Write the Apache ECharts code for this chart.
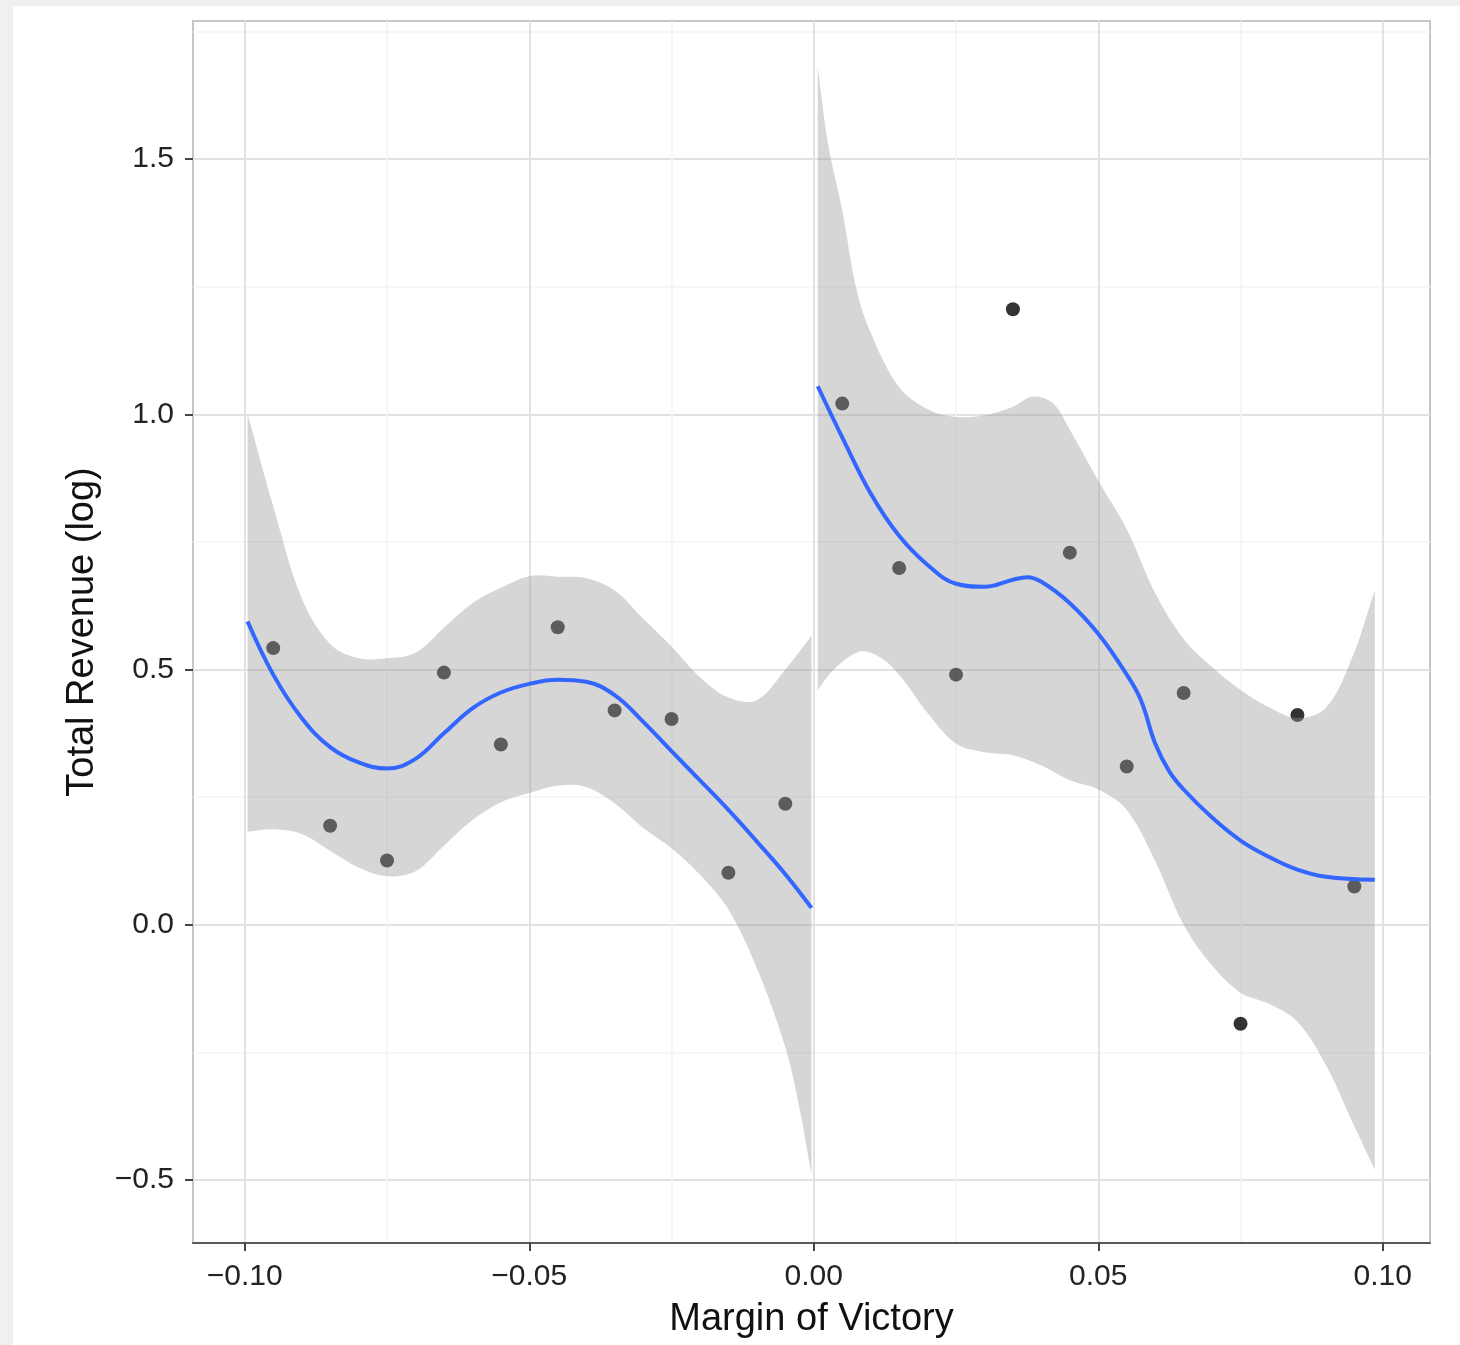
<!DOCTYPE html>
<html>
<head>
<meta charset="utf-8">
<script src="https://cdn.jsdelivr.net/npm/echarts@6/dist/echarts.min.js"></script>
<style>
  html, body { margin: 0; padding: 0; width: 1460px; height: 1345px; overflow: hidden; background: #f0f0f3; }
  #sheet { position: absolute; left: 13px; top: 6px; right: 0; bottom: 0; background: #ffffff; }
  #chart { position: absolute; left: 0; top: 0; width: 1460px; height: 1345px; }
</style>
</head>
<body>
<div id="sheet"></div>
<div id="chart"></div>
<script>
// Binned observations: margin of victory vs. mean log total revenue
const pointX = [-0.095, -0.085, -0.075, -0.065, -0.055, -0.045, -0.035, -0.025, -0.015, -0.005,
                 0.005,  0.015,  0.025,  0.035,  0.045,  0.055,  0.065,  0.075,  0.085,  0.095];
const pointY = [0.542, 0.194, 0.126, 0.494, 0.353, 0.583, 0.420, 0.403, 0.102, 0.237,
                1.021, 0.699, 0.490, 1.206, 0.729, 0.310, 0.454, -0.194, 0.411, 0.075];

// Loess fit below the threshold (losers)
const leftFitX = [-0.0995, -0.095, -0.09, -0.085, -0.08, -0.075, -0.07, -0.065, -0.06, -0.055, -0.05,
                  -0.045, -0.04, -0.035, -0.03, -0.025, -0.02, -0.015, -0.01, -0.005, -0.0004];
const leftFitY = [0.594, 0.490, 0.405, 0.348, 0.318, 0.306, 0.325, 0.375, 0.424, 0.455, 0.472,
                  0.480, 0.476, 0.450, 0.398, 0.340, 0.283, 0.225, 0.163, 0.099, 0.033];
const leftUpperX = [-0.0995, -0.095, -0.09, -0.085, -0.08, -0.075, -0.07, -0.065, -0.06, -0.055, -0.05,
                    -0.045, -0.04, -0.035, -0.03, -0.025, -0.02, -0.015, -0.01, -0.005, -0.0004];
const leftUpperY = [1.000, 0.820, 0.640, 0.550, 0.522, 0.522, 0.533, 0.582, 0.630, 0.660, 0.683,
                    0.682, 0.679, 0.655, 0.600, 0.545, 0.485, 0.445, 0.440, 0.500, 0.566];
const leftLowerX = [-0.0995, -0.095, -0.09, -0.085, -0.08, -0.075, -0.07, -0.065, -0.06, -0.055, -0.05,
                    -0.045, -0.04, -0.035, -0.03, -0.025, -0.02, -0.015, -0.01, -0.005, -0.0025, -0.0004];
const leftLowerY = [0.182, 0.187, 0.178, 0.145, 0.112, 0.095, 0.105, 0.155, 0.205, 0.240, 0.258,
                    0.273, 0.270, 0.238, 0.190, 0.150, 0.098, 0.030, -0.085, -0.240, -0.360, -0.490];

// Loess fit above the threshold (winners)
const rightFitX = [0.0007, 0.005, 0.01, 0.015, 0.02, 0.025, 0.03, 0.035, 0.0375, 0.04, 0.045, 0.05,
                   0.055, 0.0575, 0.06, 0.0625, 0.065, 0.07, 0.075, 0.08, 0.085, 0.09, 0.0986];
const rightFitY = [1.055, 0.955, 0.845, 0.762, 0.705, 0.668, 0.662, 0.676, 0.681, 0.672, 0.630, 0.570,
                   0.490, 0.440, 0.355, 0.300, 0.265, 0.210, 0.165, 0.133, 0.108, 0.094, 0.088];
const rightUpperX = [0.0007, 0.0025, 0.005, 0.0075, 0.01, 0.015, 0.02, 0.025, 0.03, 0.035, 0.0385, 0.042,
                     0.045, 0.05, 0.055, 0.06, 0.065, 0.07, 0.075, 0.08, 0.085, 0.09, 0.0945, 0.0986];
const rightUpperY = [1.680, 1.530, 1.400, 1.245, 1.160, 1.053, 1.010, 0.995, 0.998, 1.015, 1.035, 1.022,
                     0.970, 0.870, 0.775, 0.650, 0.560, 0.505, 0.460, 0.426, 0.405, 0.425, 0.520, 0.655];
const rightLowerX = [0.0007, 0.0035, 0.008, 0.0115, 0.015, 0.02, 0.025, 0.03, 0.035, 0.04, 0.045, 0.05,
                     0.055, 0.06, 0.065, 0.07, 0.075, 0.08, 0.085, 0.09, 0.095, 0.0986];
const rightLowerY = [0.460, 0.500, 0.535, 0.525, 0.490, 0.415, 0.355, 0.338, 0.332, 0.312, 0.283, 0.265,
                     0.225, 0.125, 0.000, -0.080, -0.133, -0.155, -0.190, -0.275, -0.395, -0.480];

// Axis ticks and their printed labels
const xTicks = [-0.10, -0.05, 0.00, 0.05, 0.10];
const xTickLabels = ['\u22120.10', '\u22120.05', '0.00', '0.05', '0.10'];
const xMinorTicks = [-0.075, -0.025, 0.025, 0.075];
const yTicks = [-0.5, 0.0, 0.5, 1.0, 1.5];
const yTickLabels = ['\u22120.5', '0.0', '0.5', '1.0', '1.5'];
const yMinorTicks = [-0.25, 0.25, 0.75, 1.25, 1.75];

// Panel extent (data range plus padding)
const X_MIN = -0.1091, X_MAX = 0.1083;
const Y_MIN = -0.6235, Y_MAX = 1.7706;

const FONT = '"Liberation Sans", Arial, Helvetica, sans-serif';

function labelFor(ticks, labels) {
  return function (v) {
    const i = ticks.findIndex(t => Math.abs(t - v) < 1e-9);
    return i >= 0 ? labels[i] : '';
  };
}

const zip = (xs, ys) => xs.map((x, i) => [x, ys[i]]);

// Confidence band as a filled polygon between the upper and lower bounds
function ribbon(ux, uy, lx, ly) {
  return {
    type: 'custom',
    coordinateSystem: 'cartesian2d',
    xAxisIndex: 0, yAxisIndex: 0,
    silent: true,
    z: 3,
    data: [[ux[0], uy[0]]],
    renderItem: function (params, api) {
      const up = ux.map((x, i) => api.coord([x, uy[i]]));
      const lo = lx.map((x, i) => api.coord([x, ly[i]])).reverse();
      // end vertices are doubled so the vertical ends stay straight when smoothed
      const ring = [up[0]].concat(up, [up[up.length - 1], lo[0]], lo, [lo[lo.length - 1]]);
      return {
        type: 'polygon',
        shape: { points: ring, smooth: 0.35 },
        style: { fill: 'rgba(153,153,153,0.4)' }
      };
    }
  };
}

function fitLine(xs, ys) {
  return {
    type: 'line',
    xAxisIndex: 0, yAxisIndex: 0,
    data: zip(xs, ys),
    smooth: 0.4,
    showSymbol: false,
    silent: true,
    z: 4,
    lineStyle: { color: '#3366FF', width: 4 }
  };
}

const chart = echarts.init(document.getElementById('chart'), null, { renderer: 'canvas' });

chart.setOption({
  backgroundColor: 'transparent',
  animation: false,
  grid: {
    left: 193, top: 21, right: 30, bottom: 102,
    show: true, borderColor: '#c6c6c6', borderWidth: 2, backgroundColor: 'transparent',
    outerBoundsMode: 'none'
  },
  xAxis: [
    {
      type: 'value', min: X_MIN, max: X_MAX, position: 'bottom',
      axisLine: { show: true, onZero: false, lineStyle: { color: '#5a5a5a', width: 2 } },
      axisTick: { show: true, customValues: xTicks, length: 8, lineStyle: { color: '#444', width: 2 } },
      axisLabel: {
        customValues: xTicks, formatter: labelFor(xTicks, xTickLabels),
        fontSize: 30, color: '#222', fontFamily: FONT, margin: 19
      },
      splitLine: { show: true, lineStyle: { color: '#e2e2e2', width: 2 } },
      name: 'Margin of Victory', nameLocation: 'middle', nameGap: 58,
      nameTextStyle: { fontSize: 38, color: '#111', fontFamily: FONT }
    },
    {
      type: 'value', min: X_MIN, max: X_MAX, position: 'top',
      axisLine: { show: false, onZero: false },
      axisTick: { show: false, customValues: xMinorTicks },
      axisLabel: { show: false, customValues: xMinorTicks },
      splitLine: { show: true, lineStyle: { color: '#f3f3f3', width: 1.5 } }
    }
  ],
  yAxis: [
    {
      type: 'value', min: Y_MIN, max: Y_MAX, position: 'left',
      axisLine: { show: false, onZero: false },
      axisTick: { show: true, customValues: yTicks, length: 8, lineStyle: { color: '#444', width: 2 } },
      axisLabel: {
        customValues: yTicks, formatter: labelFor(yTicks, yTickLabels),
        fontSize: 30, color: '#222', fontFamily: FONT, margin: 19
      },
      splitLine: { show: true, lineStyle: { color: '#e2e2e2', width: 2 } },
      name: 'Total Revenue (log)', nameLocation: 'middle', nameGap: 91,
      nameTextStyle: { fontSize: 38, color: '#111', fontFamily: FONT }
    },
    {
      type: 'value', min: Y_MIN, max: Y_MAX, position: 'right',
      axisLine: { show: false, onZero: false },
      axisTick: { show: false, customValues: yMinorTicks },
      axisLabel: { show: false, customValues: yMinorTicks },
      splitLine: { show: true, lineStyle: { color: '#f3f3f3', width: 1.5 } }
    }
  ],
  series: [
    {
      type: 'scatter',
      xAxisIndex: 0, yAxisIndex: 0,
      data: zip(pointX, pointY),
      symbol: 'circle', symbolSize: 14,
      itemStyle: { color: '#000000' },
      silent: true,
      z: 2
    },
    ribbon(leftUpperX, leftUpperY, leftLowerX, leftLowerY),
    ribbon(rightUpperX, rightUpperY, rightLowerX, rightLowerY),
    fitLine(leftFitX, leftFitY),
    fitLine(rightFitX, rightFitY)
  ]
});
</script>
</body>
</html>
